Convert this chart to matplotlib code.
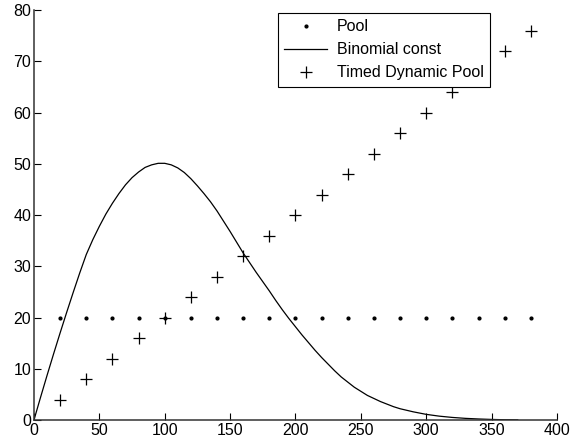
import numpy as np
import matplotlib
matplotlib.use('Agg')
import matplotlib.pyplot as plt

plt.rcParams['font.family'] = ['Liberation Sans', 'DejaVu Sans']

# pool points
pool_x = [20, 40, 60, 80, 100, 120, 140, 160, 180, 200, 220, 240, 260, 280, 300, 320, 340, 360, 380]
pool_y = [20] * len(pool_x)

# timed dynamic pool points
timed_x = pool_x
timed_y = [4, 8, 12, 16, 20, 24, 28, 32, 36, 40, 44, 48, 52, 56, 60, 64, 68, 72, 76]

# binomial const curve
binom_x = [0, 5, 10, 15, 20, 25, 30, 35, 40, 45, 50, 55, 60, 65, 70, 75, 80, 85, 90, 95,
           100, 105, 110, 115, 120, 125, 130, 135, 140, 145, 150, 155, 160, 165, 170, 175, 180, 185, 190, 195,
           200, 205, 210, 215, 220, 225, 230, 235, 240, 245, 250, 255, 260, 265, 270, 275, 280,
           290, 300, 310, 320, 330, 340, 350, 360, 370]
binom_y = [0, 4.4, 8.7, 12.9, 17.0, 21.0, 24.9, 28.7, 32.3, 35.2, 37.8, 40.2, 42.3, 44.2, 45.9, 47.3, 48.4, 49.3, 49.8, 50.1,
           50.1, 49.8, 49.2, 48.3, 47.1, 45.7, 44.2, 42.6, 40.8, 38.8, 36.8, 34.7, 32.6, 30.7, 28.8, 27.0, 25.2, 23.3, 21.5, 19.8,
           18.2, 16.6, 15.1, 13.6, 12.2, 10.9, 9.6, 8.4, 7.4, 6.4, 5.6, 4.8, 4.2, 3.6, 3.1, 2.6, 2.2,
           1.6, 1.1, 0.75, 0.5, 0.32, 0.2, 0.11, 0.05, 0.02]

fig = plt.figure(figsize=(5.7, 4.46), dpi=100)
ax = fig.add_axes([0.0596, 0.0583, 0.9175, 0.919])

ax.plot(pool_x, pool_y, '.', color='k', markersize=4, label='Pool')
ax.plot(binom_x, binom_y, '-', color='k', linewidth=0.9, label='Binomial const')
ax.plot(timed_x, timed_y, '+', color='k', markersize=8, markeredgewidth=0.9, label='Timed Dynamic Pool')

ax.set_xlim(0, 400)
ax.set_ylim(0, 80)
ax.set_xticks(np.arange(0, 401, 50))
ax.set_yticks(np.arange(0, 81, 10))
ax.spines['top'].set_visible(False)
ax.spines['right'].set_visible(False)
for s in ['left', 'bottom']:
    ax.spines[s].set_linewidth(1.1)
    ax.spines[s].set_color('0.2')
ax.tick_params(direction='in', length=5, labelsize=11.5, width=0.8, pad=2)

leg = ax.legend(loc='upper right', bbox_to_anchor=(0.872, 0.993), fontsize=11.5,
                fancybox=False, edgecolor='k', framealpha=1, handlelength=2.7,
                handletextpad=0.6, borderpad=0.4, labelspacing=0.5, borderaxespad=0)
leg.get_frame().set_linewidth(0.8)

fig.savefig('out.png', dpi=100)
